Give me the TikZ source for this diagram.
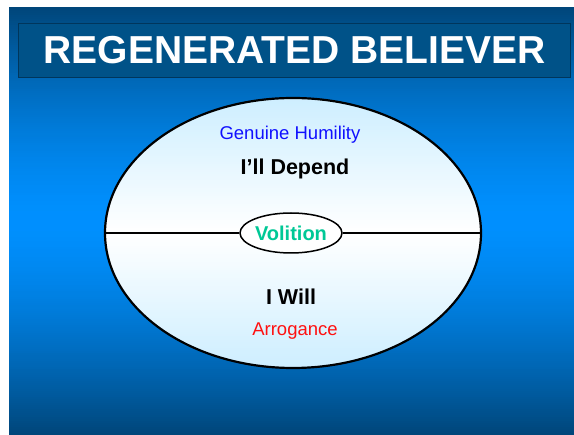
\documentclass[tikz,border=0pt]{standalone}
\usepackage{fontspec}
\setmainfont{Liberation Sans}
\usetikzlibrary{shapes.geometric}
\definecolor{bgdark}{HTML}{00467A}
\definecolor{bgmid}{HTML}{0090FF}
\definecolor{titlefill}{HTML}{005288}
\definecolor{titleedge}{HTML}{00365C}
\definecolor{ellfill}{HTML}{CDEEFF}
\definecolor{volgreen}{HTML}{00C896}
\definecolor{humblue}{HTML}{1010FF}
\definecolor{arrred}{HTML}{FF1010}
\tikzset{
  lbl/.style={anchor=base, inner sep=0pt},
  bigbold/.style={lbl, font=\fontsize{21.5}{24}\selectfont\bfseries, text=black},
  smalltext/.style={lbl, font=\fontsize{18.5}{22}\selectfont},
}
\begin{document}
\begin{tikzpicture}[x=1pt,y=-1pt]
\useasboundingbox (0,0) rectangle (574,435);
\fill[white] (0,0) rectangle (574,435);
% background vertical gradient (dark - bright - dark)
\foreach \i in {0,...,213}{
  \pgfmathsetmacro{\yy}{7+2*\i}
  \pgfmathtruncatemacro{\p}{100*(1-(abs(\yy+1-221)/214)^1.5)}
  \fill[bgmid!\p!bgdark] (9,\yy) rectangle (574,\yy+2.6);
}
\node[draw=titleedge, line width=0.8pt, fill=titlefill, minimum width=552pt, minimum height=54pt, inner sep=0pt,
      text=white, font=\fontsize{39}{44}\selectfont\bfseries] (title) at (294.5,50) {REGENERATED BELIEVER};
% outer ellipse with light gradient
\node[ellipse, minimum width=376pt, minimum height=270pt, inner sep=0pt] (outer) at (293,233) {};
\begin{scope}
  \clip (293,233) ellipse [x radius=188, y radius=135];
  \foreach \i in {0,...,135}{
    \pgfmathsetmacro{\yy}{98+2*\i}
    \pgfmathtruncatemacro{\p}{100*abs(\yy+1-233)/135}
    \fill[ellfill!\p!white] (100,\yy) rectangle (490,\yy+2.6);
  }
\end{scope}
\draw[line width=2.2pt] (293,233) ellipse [x radius=188, y radius=135];
\node[ellipse, draw=black, line width=1.5pt, fill=white, minimum width=102pt, minimum height=40pt, inner sep=0pt,
      text=volgreen, font=\fontsize{20}{24}\selectfont\bfseries] (vol) at (291,233) {Volition};
\draw[line width=1.5pt] (outer.west) -- (vol.west);
\draw[line width=1.5pt] (vol.east) -- (outer.east);
\node[smalltext, text=humblue] (hum) at (290,139.5) {Genuine Humility};
\node[bigbold] (dep) at (295,175) {I’ll Depend};
\node[bigbold] (will) at (291,305) {I Will};
\node[smalltext, text=arrred] (arr) at (295,336) {Arrogance};
\end{tikzpicture}
\end{document}
